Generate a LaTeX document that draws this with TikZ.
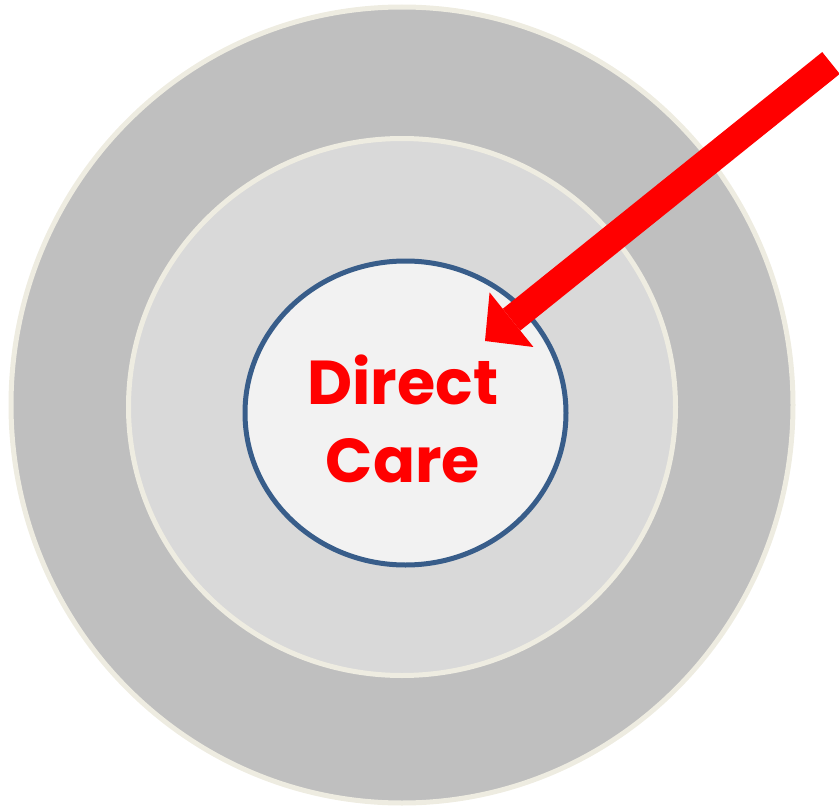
\documentclass[tikz,border=0pt]{standalone}
\usepackage{fontspec}
\newfontfamily\gothicfont{Poppins}
\usepackage{xcolor}
\usepackage{tikz}
\usetikzlibrary{shapes.geometric,arrows.meta}

\definecolor{ringgray}{HTML}{BFBFBF}
\definecolor{midgray}{HTML}{D9D9D9}
\definecolor{coregray}{HTML}{F2F2F2}
\definecolor{ringline}{HTML}{EEECE1}
\definecolor{coreblue}{HTML}{385D8A}

\begin{document}
\begin{tikzpicture}[
    x=1pt, y=-1pt,
    ring/.style={
      ellipse, draw=ringline, line width=5pt, inner sep=0pt
    },
    pointer/.style={-{Triangle[length=34pt,width=70pt,line width=0pt]},
      line width=28pt, red}
  ]
    \useasboundingbox (0,0) rectangle (839,808);
    \node[ring, fill=ringgray, minimum width=782pt, minimum height=796pt]
      (outer) at (402,405) {};
    \node[ring, fill=midgray, minimum width=547pt, minimum height=537pt]
      (middle) at (402,407) {};
    \node[ring, fill=coregray, draw=coreblue, minimum width=321pt,
      minimum height=304pt] (core) at (405.5,413) {};
    \node[anchor=base, align=center, text=red,
      font=\gothicfont\bfseries\fontsize{62}{78}\selectfont]
      (label) at (403,482) {Direct\\Care};
    % arrow into the core
    \coordinate (tail) at (831,63);
    \coordinate (tip) at (485,341);
    \draw[pointer] (tail) -- (tip);
\end{tikzpicture}
\end{document}
